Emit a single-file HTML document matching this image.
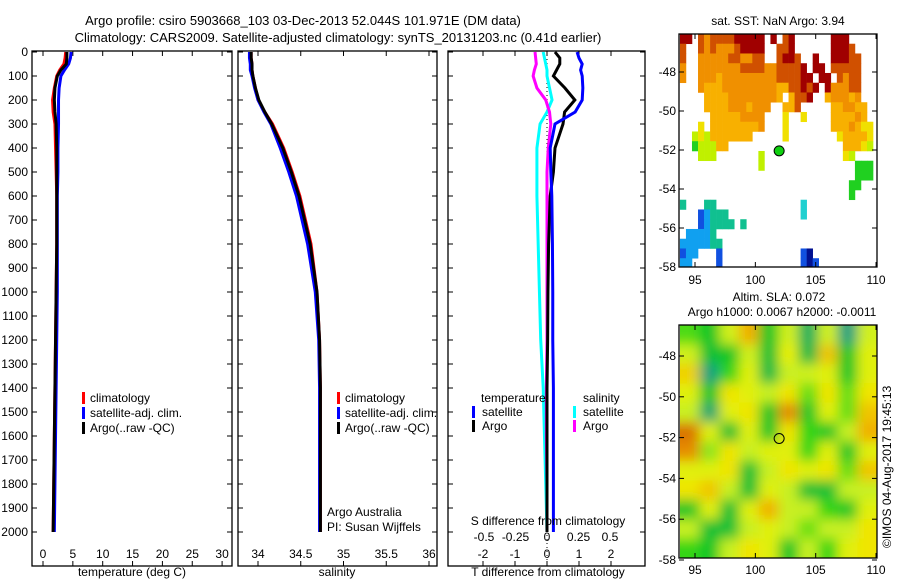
<!DOCTYPE html>
<html><head><meta charset="utf-8"><style>
body{margin:0;background:#fff}
svg{display:block;font-family:"Liberation Sans",sans-serif;font-size:12px}
</style></head><body>
<svg id="c" width="900" height="580" viewBox="0 0 900 580">
<defs>
<filter id="bl" x="-5%" y="-5%" width="110%" height="110%"><feGaussianBlur stdDeviation="6"/></filter>
<clipPath id="cp2"><rect x="680" y="325" width="197" height="233"/></clipPath>
<clipPath id="cp1"><rect x="679" y="34" width="198" height="233"/></clipPath>
</defs>
<text x="303" y="25" text-anchor="middle" font-size="13">Argo profile: csiro 5903668_103 03-Dec-2013 52.044S 101.971E (DM data)</text>
<text x="338" y="42" text-anchor="middle" font-size="13">Climatology: CARS2009. Satellite-adjusted climatology: synTS_20131203.nc (0.41d earlier)</text>
<text x="778" y="25" text-anchor="middle">sat. SST: NaN Argo: 3.94</text>
<text x="779" y="301" text-anchor="middle">Altim. SLA: 0.072</text>
<text x="782" y="316" text-anchor="middle">Argo h1000: 0.0067 h2000: -0.0011</text>
<text transform="translate(891,548) rotate(-90)">©IMOS 04-Aug-2017 19:45:13</text>
<g id="g"></g>
</svg>
<script>
const depths=[0,25,50,75,100,150,200,250,300,400,500,600,800,1000,1200,1400,1600,1800,2000];
const tempClim=[3.8,3.7,3.5,2.8,2.3,1.9,1.6,1.7,2.0,2.1,2.2,2.3,2.3,2.2,2.1,2.0,1.9,1.8,1.7];
const tempSat=[4.7,4.6,4.3,3.6,3.0,2.7,2.6,2.6,2.6,2.5,2.5,2.4,2.4,2.4,2.3,2.2,2.1,2.0,1.9];
const tempArgo=[4.0,4.0,3.9,3.0,2.4,2.0,1.9,2.0,2.2,2.3,2.3,2.3,2.3,2.2,2.1,2.0,1.9,1.8,1.7];
const salClim=[33.92,33.92,33.93,33.93,33.94,33.97,34.0,34.08,34.17,34.30,34.40,34.49,34.62,34.69,34.72,34.73,34.73,34.73,34.73];
const salSat=[33.90,33.90,33.91,33.91,33.93,33.96,34.0,34.07,34.15,34.26,34.36,34.45,34.58,34.67,34.71,34.72,34.72,34.72,34.72];
const salArgo=[33.92,33.92,33.93,33.93,33.94,33.97,34.01,34.08,34.16,34.29,34.39,34.48,34.61,34.69,34.72,34.73,34.73,34.73,34.73];
const tdSat=[0.94,1.0,1.1,1.05,1.1,1.12,1.1,0.88,0.25,0.1,0.12,0.15,0.17,0.18,0.18,0.2,0.2,0.2,0.2];
const tdArgo=[0.25,0.4,0.4,0.3,0.2,0.56,0.87,0.55,0.5,0.25,0.2,0.1,0.05,0.03,0.02,0.0,0.0,0.0,0.0];
const sdSat=[-0.03,-0.02,-0.01,0,0,0.02,0.04,0,-0.055,-0.08,-0.08,-0.08,-0.07,-0.06,-0.05,-0.03,-0.02,-0.01,0];
const sdArgo=[-0.095,-0.09,-0.085,-0.1,-0.11,-0.08,-0.01,0.02,0.03,0.01,0,0,0,0,0,-0.005,-0.005,0,0];
const depthTicks=[0,100,200,300,400,500,600,700,800,900,1000,1100,1200,1300,1400,1500,1600,1700,1800,1900,2000];
const tempTicks=[0,5,10,15,20,25,30];
const salTicks=[34,34.5,35,35.5,36];
const tdTicks=[-2,-1,0,1,2];
const sdTicks=[-0.5,-0.25,0,0.25,0.5];
const lonTicks=[95,100,105,110];
const latTicks=[-48,-50,-52,-54,-56,-58];
const sstRows=[
"RR.rorrrrRRRRR.R.rR......RRR....",
"r..rorooorRRRR..rrR......RRRr...",
"r..ooooorroorr..rRRr..R..RRRrr..",
"o..ooooooorrrroorrrrR.RR.rrrrr..",
"o..oooyooooooooorrrrRR.RR.rorr..",
"...oyyyoooooooooyyrrRrR.Rooorr..",
"....yyyyooooooooy.yrrR..yoooyo..",
"....yyyyoooyooo..yyr.....yyooyy.",
".....yyyyyoooo...Y..Y....yyyyoy.",
"...Y.yyyyyyyyo...Y.......yyyoyYY",
"..lYlyyyyyyy.....Y........YyyyyY",
"..glllyy...................yyyYl",
"...lll.......l.............Yl...",
".............l...............ggg",
".............................ggg",
"............................gg..",
"............................g...",
"t...tt..............c...........",
"...Bbttt............c...........",
"...Bbtttt.t.....................",
".bbbbt..........................",
"bbbbbtt.........................",
"Bbb...B.............BN..........",
"bb....B.............BNB.........",
"bbbbBBB.........BB.BNBB........."];
const sstLat0=-46.05, sstLon0=93.75;
const sla=[
[.5,.42,.62,.82,.42,.62,.35,.62,.28,.62],
[.62,.4,.42,.62,.4,.68,.38,.78,.42,.66],
[.76,.3,.48,.66,.38,.6,.62,.66,.42,.66],
[.66,.42,.72,.66,.6,.72,.52,.72,.52,.72],
[.6,.32,.66,.72,.42,.88,.42,.66,.52,.78],
[.92,.66,.4,.66,.42,.72,.48,.42,.6,.82],
[.88,.55,.72,.6,.66,.66,.48,.66,.42,.66],
[.66,.66,.72,.4,.6,.72,.66,.72,.52,.78],
[.72,.78,.6,.4,.66,.6,.4,.4,.6,.6],
[.42,.66,.4,.66,.82,.6,.6,.48,.42,.66],
[.6,.4,.4,.6,.66,.6,.52,.6,.6,.72],
[.48,.42,.6,.72,.66,.42,.6,.48,.66,.72]];
const argoLon=101.971, argoLat=-52.044;

const NS='http://www.w3.org/2000/svg',G=document.getElementById('g');
function el(t,a,p){const e=document.createElementNS(NS,t);for(const k in a)e.setAttribute(k,a[k]);(p||G).appendChild(e);return e;}
const Y=d=>52+d*0.24;
const T1=v=>43+v*5.97, S1=v=>258+(v-34)*85.5, TD=v=>547+v*32, SD=v=>547+v*126;
const LONX=v=>695+(v-95)*12.07, LAT1=v=>72+(-48-v)*19.5, LAT2=v=>356+(-48-v)*20.4;

function frame(x0,x1,name){
 const r=el('rect',{x:x0,y:51,width:x1-x0,height:515,fill:'none',stroke:'#000','stroke-width':1.3});
 
 depthTicks.forEach(d=>{el('line',{x1:x0,x2:x0+5,y1:Y(d),y2:Y(d),stroke:'#000'});el('line',{x1:x1,x2:x1-5,y1:Y(d),y2:Y(d),stroke:'#000'});});
}
function xt(ticks,f,y0,ly,name,top){
 ticks.forEach(t=>{el('line',{x1:f(t),x2:f(t),y1:y0,y2:y0-5,stroke:'#000'});if(top)el('line',{x1:f(t),x2:f(t),y1:51,y2:56,stroke:'#000'});
 const tx=el('text',{x:f(t),y:ly,'text-anchor':'middle'});tx.textContent=t;
 });
}
function line(vals,f,col,name){
 const p=el('polyline',{points:vals.map((v,i)=>f(v)+','+Y(depths[i])).join(' '),fill:'none',stroke:col,'stroke-width':3});
 
}
function label(x,y,s,name,anchor){const t=el('text',{x:x,y:y,'text-anchor':anchor||'start'});t.textContent=s;return t;}
function mark(x,y,col){el('rect',{x:x,y:y-10,width:3,height:12,fill:col});}

depthTicks.forEach(d=>{label(28,Y(d)+4,d,'depth-tick-label','end');});
frame(32,232,'temperature-panel');xt(tempTicks,T1,566,558,'temperature',true);
line(tempClim,T1,'#f00','temp-climatology-line');line(tempSat,T1,'#00f','temp-satellite-line');line(tempArgo,T1,'#000','temp-argo-line');
label(132,576,'temperature (deg C)','temperature-axis-title','middle');
[['climatology','#f00'],['satellite-adj. clim.','#00f'],['Argo(..raw -QC)','#000']].forEach((l,i)=>{mark(82,402+i*15,l[1]);label(90,402+i*15,l[0],'legend-entry');});
frame(238,437,'salinity-panel');xt(salTicks,S1,566,558,'salinity',true);
line(salClim,S1,'#f00','sal-climatology-line');line(salSat,S1,'#00f','sal-satellite-line');line(salArgo,S1,'#000','sal-argo-line');
label(337,576,'salinity','salinity-axis-title','middle');
[['climatology','#f00'],['satellite-adj. clim.','#00f'],['Argo(..raw -QC)','#000']].forEach((l,i)=>{mark(337,402+i*15,l[1]);label(345,402+i*15,l[0],'legend-entry');});
label(327,516,'Argo Australia','argo-australia-label');label(327,531,'PI: Susan Wijffels','pi-label');
frame(448,645,'difference-panel');
tdTicks.forEach(t=>{el('line',{x1:TD(t),x2:TD(t),y1:51,y2:56,stroke:'#000'});});
xt(tdTicks,TD,566,558,'t-diff',false);
sdTicks.forEach(t=>{label(SD(t),541,t,'s-diff-tick-label','middle');});
el('line',{x1:547,x2:547,y1:51,y2:566,stroke:'#000','stroke-dasharray':'1,3'});
line(sdSat,SD,'#0ff','s-diff-satellite-line');line(sdArgo,SD,'#f0f','s-diff-argo-line');
line(tdArgo,TD,'#000','t-diff-argo-line');line(tdSat,TD,'#00f','t-diff-satellite-line');
label(548,525,'S difference from climatology','s-diff-axis-title','middle');
label(548,576,'T difference from climatology','t-diff-axis-title','middle');
label(481,402,'temperature','legend-temperature-heading');label(583,402,'salinity','legend-salinity-heading');
mark(472,416,'#00f');label(482,416,'satellite','legend-entry');mark(472,430,'#000');label(482,430,'Argo','legend-entry');
mark(573,416,'#0ff');label(583,416,'satellite','legend-entry');mark(573,430,'#f0f');label(583,430,'Argo','legend-entry');

const cmap={R:'#a00000',r:'#d05000',o:'#f09000',y:'#f8b000',Y:'#f0e000',l:'#c0f000',g:'#20d020',t:'#10c090',c:'#20d0d0',b:'#10a0f0',B:'#1050e0',N:'#001090'};
const sg=el('g',{'clip-path':'url(#cp1)'});
sstRows.forEach((row,i)=>{[...row].forEach((ch,j)=>{if(cmap[ch]){const la=sstLat0-i*0.5,lo=sstLon0+j*0.5;
 el('rect',{x:LONX(lo),y:LAT1(la),width:LONX(lo+0.5)-LONX(lo)+0.3,height:LAT1(la-0.5)-LAT1(la)+0.3,fill:cmap[ch]},sg);}});});
function mapFrame(y0,y1,LAT,name,ly){
 const r=el('rect',{x:679,y:y0,width:198,height:y1-y0,fill:'none',stroke:'#000','stroke-width':1.3});
 
 latTicks.forEach(t=>{el('line',{x1:679,x2:684,y1:LAT(t),y2:LAT(t),stroke:'#000'});el('line',{x1:877,x2:872,y1:LAT(t),y2:LAT(t),stroke:'#000'});label(676,LAT(t)+4,t,name+'-lat-label','end');});
 lonTicks.forEach(t=>{el('line',{x1:LONX(t),x2:LONX(t),y1:y1,y2:y1-5,stroke:'#000'});el('line',{x1:LONX(t),x2:LONX(t),y1:y0,y2:y0+5,stroke:'#000'});label(LONX(t),ly,t,name+'-lon-label','middle');});
}
el('circle',{cx:LONX(argoLon),cy:LAT1(argoLat),r:5,fill:'#10d010',stroke:'#000'});
mapFrame(34,267,LAT1,'sst-map',284);
function scol(v){const st=[[0.3,[16,160,128]],[0.45,[16,208,16]],[0.6,[200,240,32]],[0.7,[240,240,0]],[0.85,[240,160,0]],[0.95,[208,96,0]]];
 if(v<=st[0][0])return 'rgb('+st[0][1]+')';for(let i=1;i<st.length;i++)if(v<=st[i][0]){const a=st[i-1],b=st[i],f=(v-a[0])/(b[0]-a[0]);return 'rgb('+a[1].map((c,k)=>Math.round(c+(b[1][k]-c)*f))+')';}return 'rgb('+st[st.length-1][1]+')';}
const cg=el('g',{'clip-path':'url(#cp2)'});
const bg=el('g',{filter:'url(#bl)'},cg);
const cw=197/sla[0].length,ch=233/sla.length;
sla.forEach((row,i)=>row.forEach((v,j)=>{let x=680+j*cw,y=325+i*ch,w=cw+0.5,h=ch+0.5;
 if(j==0){x-=20;w+=20;}if(j==row.length-1)w+=20;if(i==0){y-=20;h+=20;}if(i==sla.length-1)h+=20;
 el('rect',{x:x,y:y,width:w,height:h,fill:scol(v)},bg);}));
el('circle',{cx:LONX(argoLon),cy:LAT2(argoLat),r:5,fill:'none',stroke:'#000'});
mapFrame(325,558,LAT2,'sla-map',574);
</script>
</body></html>
